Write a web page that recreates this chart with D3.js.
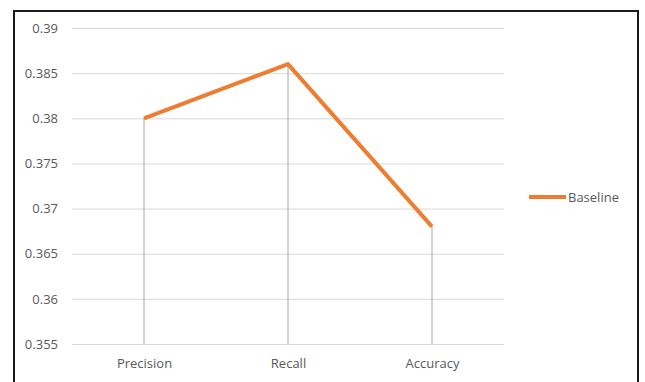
<!DOCTYPE html>
<html>
<head>
<meta charset="utf-8">
<script src="https://cdn.jsdelivr.net/npm/d3@7"></script>
<style>
  html, body { margin: 0; padding: 0; background: #fff; }
  svg { display: block; }
  text { font-family: "Open Sans", "Noto Sans", sans-serif; }
</style>
</head>
<body>
<svg id="chart" width="645" height="382"></svg>
<script>
const categories = ["Precision", "Recall", "Accuracy"];
const baseline = [0.380, 0.386, 0.368];
const yTicks = [0.355, 0.36, 0.365, 0.37, 0.375, 0.38, 0.385, 0.39];
const seriesName = "Baseline";

const svg = d3.select("#chart");
const W = 645, H = 382;
const plot = { left: 72, right: 504, top: 28, bottom: 344 };
const orange = "#ED7D31";

// outer chart frame (bottom edge falls outside the view)
svg.append("path")
  .attr("d", `M14,${H + 2}V11H638V${H + 2}`)
  .attr("fill", "none")
  .attr("stroke", "#1a1a1a")
  .attr("stroke-width", 2);

const x = d3.scalePoint().domain(categories).range([plot.left, plot.right]).padding(0.5);
const y = d3.scaleLinear().domain([0.355, 0.39]).range([plot.bottom, plot.top]);

// horizontal gridlines and value labels
const yAxis = d3.axisLeft(y).tickValues(yTicks)
  .tickSize(-(plot.right - plot.left))
  .tickPadding(14)
  .tickFormat(d => d3.format("")(+d.toFixed(3)));
const gy = svg.append("g").attr("transform", `translate(${plot.left},0)`).call(yAxis);
gy.select(".domain").remove();
gy.selectAll(".tick line").attr("stroke", "#d9d9d9").attr("stroke-width", 1);
gy.selectAll(".tick text").attr("fill", "#595959").attr("font-size", 13);

// category labels
const xAxis = d3.axisBottom(x).tickSize(0).tickPadding(15);
const gx = svg.append("g").attr("transform", `translate(0,${plot.bottom})`).call(xAxis);
gx.select(".domain").remove();
gx.selectAll(".tick text").attr("fill", "#595959").attr("font-size", 13);

const data = categories.map((c, i) => ({ c, v: baseline[i] }));

// drop lines from each point to the category axis
svg.append("g").selectAll("line").data(data).join("line")
  .attr("x1", d => x(d.c)).attr("x2", d => x(d.c))
  .attr("y1", d => y(d.v)).attr("y2", y(0.355))
  .attr("stroke", "#a6a6a6").attr("stroke-width", 1);

// series line
svg.append("path").datum(data)
  .attr("d", d3.line().x(d => x(d.c)).y(d => y(d.v)))
  .attr("fill", "none")
  .attr("stroke", orange)
  .attr("stroke-width", 4)
  .attr("stroke-linejoin", "round")
  .attr("stroke-linecap", "butt");

// legend
const lg = svg.append("g").attr("transform", "translate(529,197)");
lg.append("line").attr("x1", 0).attr("x2", 37).attr("y1", 0).attr("y2", 0)
  .attr("stroke", orange).attr("stroke-width", 4);
lg.append("text").attr("x", 39).attr("y", 0).attr("dy", "0.35em")
  .attr("fill", "#595959").attr("font-size", 13).text(seriesName);
</script>
</body>
</html>
